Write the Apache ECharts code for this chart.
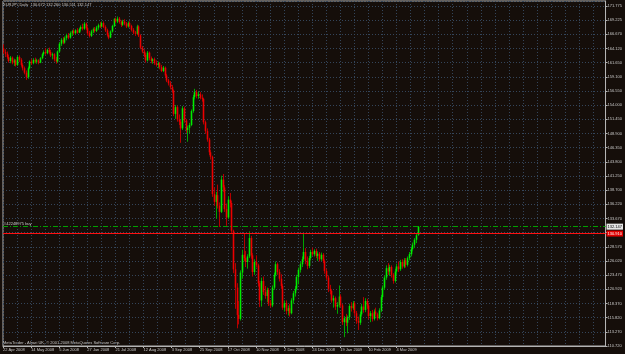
<!DOCTYPE html>
<html>
<head>
<meta charset="utf-8">
<title>EURJPY,Daily</title>
<script src="https://cdn.jsdelivr.net/npm/echarts@6/dist/echarts.min.js"></script>
<style>
html, body { margin: 0; padding: 0; background: #150e0a; }
#chart { width: 625px; height: 354px; }
</style>
</head>
<body>
<div id="chart"></div>
<script>
// daily bars, first one is 22 Apr 2008 — [open, close, low, high]
const bars = [
  [164.2,163.5,163.2,164.9],[163.5,163.2,162.6,164.0],[163.2,162.6,162.3,163.6],[162.6,161.9,161.6,163.0],
  [161.9,162.5,161.5,162.8],[162.5,161.6,161.3,162.7],[161.6,162.0,161.0,162.3],[162.0,161.2,160.9,162.2],
  [161.2,162.6,161.0,162.9],[162.6,162.1,161.7,162.9],[162.1,161.2,160.9,162.4],[161.2,160.6,160.2,161.5],
  [160.6,159.8,159.5,160.9],[159.8,159.0,158.5,160.2],[159.0,160.6,158.7,160.9],[160.6,161.8,160.4,162.0],
  [161.8,161.5,161.2,162.3],[161.5,162.1,161.3,162.4],[162.1,161.8,161.5,162.5],[161.8,162.0,161.4,162.3],
  [162.0,161.6,161.3,162.2],[161.6,162.4,161.5,162.6],[162.4,163.1,162.2,163.3],[163.1,163.5,162.8,163.8],
  [163.5,163.3,163.0,164.2],[163.3,163.9,163.1,164.1],[163.9,163.5,163.2,164.3],[163.5,162.9,162.6,163.9],
  [162.9,163.1,162.2,163.4],[163.1,162.2,161.8,163.3],[162.2,161.8,161.4,162.6],[161.8,163.6,161.6,163.8],
  [163.6,165.0,163.4,165.3],[165.0,165.7,164.6,166.0],[165.7,165.2,164.9,166.2],[165.2,166.0,165.0,166.3],
  [166.0,166.5,165.6,166.8],[166.5,166.1,165.8,166.9],[166.1,166.9,165.9,167.2],[166.9,167.3,166.4,167.5],
  [167.3,166.9,166.6,167.6],[166.9,167.4,166.7,167.6],[167.4,167.0,166.8,167.8],[167.0,167.6,166.9,167.8],
  [167.6,168.0,167.2,168.3],[168.0,167.7,167.4,168.6],[167.7,168.6,167.5,168.9],[168.6,167.8,167.5,168.8],
  [167.8,166.9,166.5,168.1],[166.9,166.4,166.1,167.3],[166.4,167.2,166.2,167.5],[167.2,167.6,166.9,167.9],
  [167.6,167.3,167.0,168.0],[167.3,167.9,167.1,168.2],[167.9,168.3,167.5,168.6],[168.3,168.1,167.8,168.9],
  [168.1,168.7,167.9,169.0],[168.7,168.0,167.8,169.0],[168.0,167.4,167.1,168.3],[167.4,166.6,166.3,167.7],
  [166.6,166.1,165.8,166.9],[166.1,167.2,166.0,167.4],[167.2,168.2,167.0,168.4],[168.2,169.4,168.0,169.6],
  [169.4,169.0,168.7,169.7],[169.0,169.5,168.7,169.9],[169.5,168.9,168.6,169.8],[168.9,168.4,168.0,169.2],
  [168.4,169.0,168.2,169.3],[169.0,168.6,168.3,169.4],[168.6,168.1,167.8,168.9],[168.1,168.7,167.9,169.0],
  [168.7,168.2,167.9,169.0],[168.2,167.5,167.2,168.4],[167.5,167.0,166.7,167.8],[167.0,166.8,166.4,167.3],
  [166.8,168.1,166.6,168.4],[168.1,166.5,166.2,168.3],[166.5,164.3,164.0,166.7],[164.3,163.6,163.3,164.6],
  [163.6,163.0,162.6,164.0],[163.0,162.0,161.6,163.4],[162.0,163.4,161.8,163.7],[163.4,162.4,162.0,163.6],
  [162.4,161.9,161.5,162.7],[161.9,162.2,161.4,162.4],[162.2,161.5,161.2,162.5],[161.5,161.2,160.9,162.0],
  [161.2,161.5,160.6,161.8],[161.5,160.8,160.4,161.7],[160.8,160.1,159.9,161.2],[160.1,160.7,159.9,161.0],
  [160.7,159.3,159.0,160.9],[159.3,158.4,158.1,159.6],[158.4,157.9,157.5,158.7],[157.9,157.2,156.8,158.3],
  [157.2,156.6,156.2,157.6],[156.6,152.4,152.0,156.8],[152.4,153.6,151.5,154.0],[153.6,151.4,151.0,153.9],
  [151.4,151.0,150.4,152.3],[151.0,149.8,147.2,151.3],[149.8,153.4,149.5,153.8],[153.4,151.2,150.8,153.7],
  [151.2,149.5,149.0,151.5],[149.5,149.9,147.4,150.3],[149.9,150.4,148.9,150.8],[150.4,152.9,150.2,153.2],
  [152.9,155.4,152.6,155.8],[155.4,156.3,155.0,156.9],[156.3,155.6,155.2,156.7],[155.6,155.9,155.1,156.4],
  [155.9,155.3,155.0,156.3],[155.3,155.1,154.6,155.9],[155.1,150.9,150.5,155.3],[150.9,149.3,148.8,151.2],
  [149.3,147.8,147.4,149.8],[147.8,145.5,145.0,148.1],[145.5,144.7,144.2,145.9],[144.7,138.0,137.5,144.9],
  [138.0,136.6,135.9,139.2],[136.6,137.8,133.6,138.4],[137.8,135.9,135.4,139.7],[135.9,134.8,132.1,136.5],
  [134.8,140.6,134.6,141.3],[140.6,139.2,138.4,141.6],[139.2,135.3,134.8,139.6],[135.3,133.8,132.3,136.3],
  [133.8,137.0,133.5,137.6],[137.0,136.4,135.6,138.2],[136.4,131.4,131.0,136.8],[131.4,124.5,123.8,131.6],
  [124.5,121.2,117.4,125.6],[121.2,116.3,113.9,122.0],[116.3,115.6,114.6,118.8],[115.6,123.9,115.3,124.3],
  [123.9,127.1,122.8,128.0],[127.1,126.5,126.0,131.0],[126.5,125.8,124.9,127.8],[125.8,126.8,124.6,127.2],
  [126.8,130.1,126.5,131.3],[130.1,127.0,126.4,130.5],[127.0,124.0,123.2,127.4],[124.0,125.8,123.5,126.3],
  [125.8,125.2,124.8,127.0],[125.2,122.0,121.4,125.5],[122.0,118.9,117.7,122.4],[118.9,122.4,117.8,123.0],
  [122.4,120.4,119.9,123.2],[120.4,119.7,119.2,121.5],[119.7,120.8,118.6,121.2],[120.8,118.4,117.9,121.1],
  [118.4,118.0,117.6,119.0],[118.0,121.2,117.7,121.6],[121.2,123.5,120.8,123.9],[123.5,125.4,123.2,125.9],
  [125.4,124.0,123.5,125.7],[124.0,122.8,122.3,124.5],[122.8,121.5,121.0,123.6],[121.5,117.6,117.2,121.9],
  [117.6,118.4,116.9,118.9],[118.4,117.0,116.4,118.9],[117.0,117.5,116.2,118.0],[117.5,116.6,116.0,118.3],
  [116.6,118.9,116.4,119.3],[118.9,120.2,118.3,120.6],[120.2,121.0,119.6,121.5],[121.0,123.1,120.7,123.5],
  [123.1,124.4,121.8,124.8],[124.4,125.4,123.9,125.8],[125.4,126.3,124.9,126.8],[126.3,127.6,126.0,130.9],
  [127.6,126.0,125.4,128.3],[126.0,125.1,124.5,126.8],[125.1,126.5,124.7,126.9],[126.5,127.6,126.1,128.0],
  [127.6,127.2,126.9,128.4],[127.2,127.8,126.8,128.1],[127.8,126.9,126.5,128.2],[126.9,127.3,126.0,127.7],
  [127.3,126.3,125.9,127.6],[126.3,127.1,126.0,127.5],[127.1,126.0,125.6,127.4],[126.0,124.2,123.7,126.3],
  [124.2,123.0,122.6,124.6],[123.0,121.0,120.4,123.4],[121.0,120.6,120.0,121.7],[120.6,118.9,118.5,120.9],
  [118.9,119.3,117.6,119.8],[119.3,117.8,117.2,119.6],[117.8,118.1,116.5,118.6],[118.1,119.6,117.6,121.6],
  [119.6,118.0,117.7,120.0],[118.0,115.0,114.5,118.3],[115.0,115.7,112.3,116.1],[115.7,114.9,114.3,116.5],
  [114.9,115.9,113.0,116.2],[115.9,117.9,115.4,118.3],[117.9,117.5,116.9,118.6],[117.5,118.4,117.2,118.8],
  [118.4,116.6,116.1,118.7],[116.6,115.2,114.7,117.0],[115.2,114.9,113.6,116.0],[114.9,116.4,114.5,116.9],
  [116.4,117.8,116.0,118.3],[117.8,117.2,116.7,119.5],[117.2,118.8,116.8,119.3],[118.8,118.0,117.4,119.2],
  [118.0,116.1,115.5,118.4],[116.1,116.6,115.0,117.0],[116.6,115.6,115.1,117.2],[115.6,116.9,115.3,117.3],
  [116.9,116.4,116.0,117.6],[116.4,115.7,115.3,116.7],[115.7,117.1,115.5,117.5],[117.1,119.5,116.8,119.9],
  [119.5,121.2,118.9,121.6],[121.2,123.0,120.8,123.4],[123.0,124.7,122.6,125.2],[124.7,124.1,123.5,125.6],
  [124.1,124.9,123.3,125.3],[124.9,123.5,123.0,125.2],[123.5,122.4,121.9,123.8],[122.4,124.1,122.1,124.6],
  [124.1,125.0,123.5,125.5],[125.0,124.5,124.0,125.9],[124.5,125.8,124.2,126.2],[125.8,125.0,124.6,126.3],
  [125.0,126.1,124.7,126.5],[126.1,125.3,124.8,126.5],[125.3,126.5,125.0,126.8],[126.5,127.2,126.1,127.6],
  [127.2,128.1,126.8,128.5],[128.1,128.9,127.7,129.3],[128.9,129.8,128.3,130.1],[129.8,130.6,129.2,131.0],
  [130.672,132.147,130.511,132.260]
]

const symbolName = 'EURJPY,Daily'
const orderLabel = '#42248975 buy'
const orderPrice = 132.147
const stopPrice = 130.910
const noBarDays = ['2008-12-25', '2009-01-01']
const xTickLabels = ['22 Apr 2008', '14 May 2008', '5 Jun 2008', '27 Jun 2008', '21 Jul 2008',
  '12 Aug 2008', '3 Sep 2008', '25 Sep 2008', '17 Oct 2008', '10 Nov 2008', '2 Dec 2008',
  '24 Dec 2008', '19 Jan 2009', '10 Feb 2009', '4 Mar 2009']
// price scale on the right, bottom to top (the one under the red box is hidden)
const yTickLabels = ['110.720', '113.270', '115.820', '118.370', '120.920', '123.470', '126.020',
  '128.570', '', '133.670', '136.220', '138.700', '141.250', '143.800', '146.350', '148.900',
  '151.450', '154.000', '156.550', '159.100', '161.650', '164.120', '166.670', '169.225', '171.775']
const yMin = 110.72
const yStep = 2.544
const yMax = 172.67

const totalSlots = 344   // the chart is shifted, empty space on the right
const gridColor = '#34455a'
const frameColor = '#b4b4b4'
const textColor = '#c8c8c8'
const bullColor = '#00ec00'
const bearColor = '#ec0000'
const bullWick = '#00a400'
const bearWick = '#b40000'

// trading days (weekdays, broker has no bar on Christmas / New Year)
const dates = []
let d = new Date(Date.UTC(2008, 3, 22))
while (dates.length < totalSlots) {
  const key = d.toISOString().slice(0, 10)
  const wd = d.getUTCDay()
  if (wd !== 0 && wd !== 6 && noBarDays.indexOf(key) < 0) dates.push(key)
  d = new Date(d.getTime() + 86400000)
}

function isLabelIdx(i) {
  return i % 16 === 0 && i / 16 < xTickLabels.length
}

const last = bars[bars.length - 1]
const header = symbolName + '  ' + [last[0], last[3], last[2], last[1]].map(function (v) { return v.toFixed(3) }).join(' ')

// [index, open, close, low, high] for the custom series
const barRows = bars.map(function (b, i) { return [i, b[0], b[1], b[2], b[3]] })

function renderBar(params, api) {
  const i = api.value(0)
  const open = api.coord([i, api.value(1)])
  const close = api.coord([i, api.value(2)])
  const low = api.coord([i, api.value(3)])
  const high = api.coord([i, api.value(4)])
  const x = Math.round(open[0]) + 0.5
  const up = api.value(2) >= api.value(1)
  const top = Math.min(open[1], close[1])
  const h = Math.max(Math.abs(open[1] - close[1]), 1)
  return {
    type: 'group',
    children: [
      { type: 'line', shape: { x1: x, y1: high[1], x2: x, y2: low[1] },
        style: { stroke: up ? bullWick : bearWick, lineWidth: 1 } },
      { type: 'rect', shape: { x: x - 0.8, y: top, width: 1.6, height: h },
        style: { fill: up ? bullColor : bearColor } }
    ]
  }
}

const chart = echarts.init(document.getElementById('chart'))
chart.setOption({
  backgroundColor: '#150e0a',
  animation: false,
  textStyle: { fontFamily: 'Liberation Sans' },
  grid: { left: 1, right: 17, top: 1, bottom: 8, show: true, borderColor: frameColor, borderWidth: 1 },
  xAxis: {
    type: 'category', data: dates, boundaryGap: false,
    axisLine: { lineStyle: { color: frameColor } },
    axisTick: { show: true, interval: isLabelIdx, length: 2, lineStyle: { color: frameColor } },
    axisLabel: {
      interval: isLabelIdx,
      formatter: function (v, i) { return xTickLabels[i / 16] || '' },
      color: textColor, fontSize: 4, align: 'left', margin: 2
    },
    splitLine: { show: true, interval: function (i) { return i % 8 === 0 }, lineStyle: { color: gridColor, type: [1, 2] } }
  },
  yAxis: {
    type: 'value', position: 'right', min: yMin, max: yMax, interval: yStep,
    axisLine: { show: true, lineStyle: { color: frameColor } },
    axisTick: { show: true, length: 2, lineStyle: { color: frameColor } },
    axisLabel: {
      formatter: function (v) { return yTickLabels[Math.round((v - yMin) / yStep)] || '' },
      showMaxLabel: false, color: textColor, fontSize: 4, margin: 2
    },
    splitLine: { show: true, lineStyle: { color: gridColor, type: [1, 2] } }
  },
  graphic: [
    { type: 'text', left: 3, top: 3, style: { text: header, fill: textColor, fontSize: 4, fontFamily: 'Liberation Sans' } },
    { type: 'text', left: 3, top: 341, style: { text: 'MetaTrader - Alpari UK, © 2001-2008 MetaQuotes Software Corp.', fill: textColor, fontSize: 4, fontFamily: 'Liberation Sans' } }
  ],
  series: [{
    type: 'custom',
    data: barRows,
    encode: { x: 0, y: [1, 2, 3, 4] },
    renderItem: renderBar,
    clip: true,
    markLine: {
      silent: true, symbol: ['none', 'none'], animation: false,
      data: [
        {
          yAxis: orderPrice,
          lineStyle: { color: '#00a000', type: [5, 2, 1, 2], width: 1 },
          label: { show: true, position: 'insideStartTop', formatter: orderLabel, color: textColor, fontSize: 4, distance: 1 }
        },
        {
          // bid price box on the price scale
          yAxis: last[1],
          lineStyle: { color: 'rgba(0,0,0,0)', width: 1 },
          label: { show: true, position: 'end', formatter: last[1].toFixed(3), color: '#000000', backgroundColor: '#e6e6e6', fontSize: 4, padding: [1, 1, 1, 1], distance: 1 }
        },
        {
          yAxis: stopPrice,
          lineStyle: { color: '#ff1010', type: 'solid', width: 1 },
          label: { show: true, position: 'end', formatter: stopPrice.toFixed(3), color: '#ffffff', backgroundColor: '#e00000', fontSize: 4, padding: [1, 1, 1, 1], distance: 1 }
        }
      ]
    }
  }]
})
</script>
</body>
</html>
